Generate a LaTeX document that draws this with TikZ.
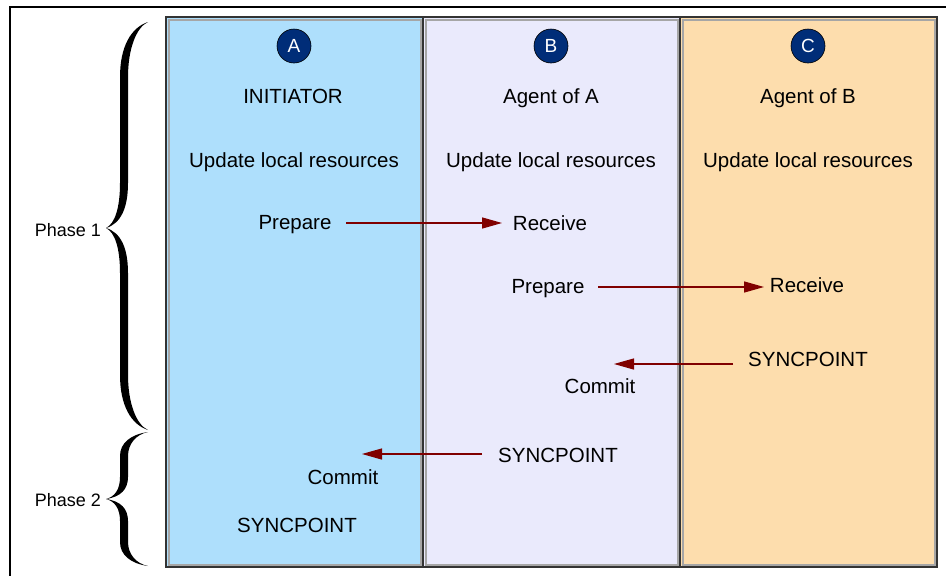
\documentclass[tikz,border=0pt]{standalone}
\usepackage{fontspec}
\setmainfont{Liberation Sans}
\usetikzlibrary{arrows.meta}
\definecolor{colA}{RGB}{174,223,252}
\definecolor{colB}{RGB}{234,234,252}
\definecolor{colC}{RGB}{253,221,173}
\definecolor{navy}{RGB}{0,45,120}
\definecolor{arrowred}{RGB}{128,0,0}
\newcommand\bracefill[5]{%
\fill (148,#1) .. controls (131,{#1+0.1*#4}) and (120,{#1+0.45*#4}) .. (120,{#1+#4}) -- (120,{#2-#5}) .. controls (120,{#2-0.45*#5}) and (115,{#2-0.1*#5}) .. (106,#2) .. controls (121,{#2-0.1*#5}) and (128,{#2-0.45*#5}) .. (128,{#2-#5}) -- (128,{#1+#4}) .. controls (128,{#1+0.5*#4}) and (136,{#1+0.1*#4}) .. (148,#1) -- cycle;
\fill (148,#3) .. controls (131,{#3-0.1*#4}) and (120,{#3-0.45*#4}) .. (120,{#3-#4}) -- (120,{#2+#5}) .. controls (120,{#2+0.45*#5}) and (115,{#2+0.1*#5}) .. (106,#2) .. controls (121,{#2+0.1*#5}) and (128,{#2+0.45*#5}) .. (128,{#2+#5}) -- (128,{#3-#4}) .. controls (128,{#3-0.5*#4}) and (136,{#3-0.1*#4}) .. (148,#3) -- cycle;
}
\tikzset{
  lbl/.style={anchor=base, inner sep=0pt, font=\fontsize{20.5}{24}\selectfont},
  phase/.style={anchor=base east, inner sep=0pt, font=\fontsize{18}{22}\selectfont},
  badge/.style={circle, fill=navy, draw=black, line width=0.6pt, minimum size=34pt, inner sep=0pt, text=white, font=\fontsize{19}{22}\selectfont},
  msg/.style={draw=arrowred, line width=1.3pt, -{Triangle[length=20pt,width=11pt]}, color=arrowred},
  panelin/.style={draw=black!35, line width=2pt},
  panelout/.style={draw=black!80, line width=1.6pt}
}
\begin{document}
\begin{tikzpicture}[x=1pt,y=-1pt]
\useasboundingbox (0,0) rectangle (946,576);
\clip (0,0) rectangle (946,576);
\fill[white] (0,0) rectangle (946,576);
\draw[line width=1.4pt] (10,7) rectangle (990,620);
% panels
\fill[colA] (166,17) rectangle (423,567);
\fill[colB] (423,17) rectangle (680,567);
\fill[colC] (680,17) rectangle (937,567);
\draw[panelin] (168.5,19.5) rectangle (420.5,564.5);
\draw[panelin] (425.5,19.5) rectangle (677.5,564.5);
\draw[panelin] (682.5,19.5) rectangle (934.5,564.5);
\draw[panelout] (166,17) rectangle (423,567);
\draw[panelout] (423,17) rectangle (680,567);
\draw[panelout] (680,17) rectangle (937,567);
% badges
\node[badge] (bA) at (294,46) {A};
\node[badge] (bB) at (551,46) {B};
\node[badge] (bC) at (808,46) {C};
% titles
\node[lbl] (tA) at (293,103) {INITIATOR};
\node[lbl] (tB) at (551,103) {Agent of A};
\node[lbl] (tC) at (808,103) {Agent of B};
\node[lbl] (uA) at (294,167) {Update local resources};
\node[lbl] (uB) at (551,167) {Update local resources};
\node[lbl] (uC) at (808,167) {Update local resources};
% messages
\node[lbl] (prepA) at (295,229) {Prepare};
\node[lbl] (recvB) at (550,230) {Receive};
\node[lbl] (prepB) at (548,293) {Prepare};
\node[lbl] (recvC) at (807,292) {Receive};
\node[lbl] (syncC) at (808,366) {SYNCPOINT};
\node[lbl] (commB) at (600,393) {Commit};
\node[lbl] (syncB) at (558,462) {SYNCPOINT};
\node[lbl] (commA) at (343,484) {Commit};
\node[lbl] (syncA) at (297,532) {SYNCPOINT};
% arrow endpoints
\coordinate (a1s) at (346,223); \coordinate (a1e) at (502,223);
\coordinate (a2s) at (598,287); \coordinate (a2e) at (764,287);
\coordinate (a3s) at (733,364); \coordinate (a3e) at (614,364);
\coordinate (a4s) at (482,454); \coordinate (a4e) at (362,454);
\draw[msg] (a1s) -- (a1e);
\draw[msg] (a2s) -- (a2e);
\draw[msg] (a3s) -- (a3e);
\draw[msg] (a4s) -- (a4e);
% braces
\bracefill{22}{228}{430}{55}{45}
\bracefill{432}{499}{566}{24}{22}
\node[phase] (ph1) at (101,236) {Phase 1};
\node[phase] (ph2) at (101,506) {Phase 2};
\end{tikzpicture}
\end{document}
